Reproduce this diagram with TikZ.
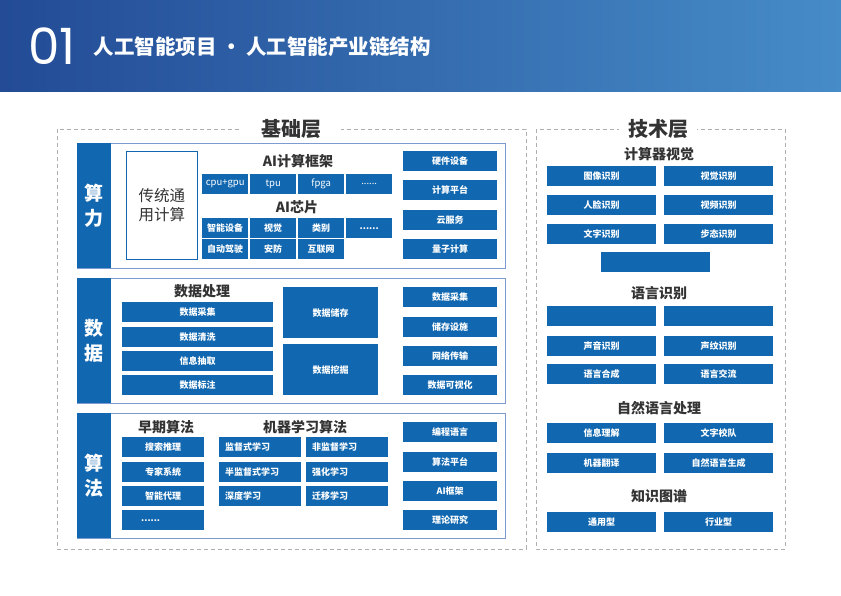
\documentclass[tikz,border=0pt]{standalone}
\usepackage{fontspec}
\setmainfont{Noto Sans CJK SC}
\newfontfamily\numfont{Poppins}
\usepackage{xcolor}
\definecolor{boxblue}{RGB}{18,104,176}
\definecolor{rahmenblau}{RGB}{125,155,208}
\definecolor{kopflinks}{RGB}{35,75,150}
\definecolor{kopfrechts}{RGB}{70,140,200}
\definecolor{textgrau}{RGB}{51,51,51}
\definecolor{strichgrau}{RGB}{175,175,175}
\newcommand\punkte{......}

\begin{document}
\begin{tikzpicture}[x=1pt, y=-1pt,
		zelle/.style={fill=boxblue, text=white, font=\bfseries\fontsize{9}{10}\selectfont, inner sep=0pt, minimum height=20, minimum width=#1, anchor=north west},
		links/.style={align=left, text width=#1, inner xsep=6},
		kopf/.style={text=textgrau, font=\bfseries\fontsize{14}{14}\selectfont},
		ebene/.style={fill=white, text=textgrau, font=\bfseries\fontsize{20}{20}\selectfont},
		rahmen/.style={strichgrau, dash pattern=on 4pt off 3pt},
		balken/.style={fill=boxblue, text=white, font=\bfseries\fontsize{19}{25}\selectfont, align=center, inner sep=0pt, minimum width=34, minimum height=125, anchor=north west}]
		\useasboundingbox (0,0) rectangle (841,595);
		% Kopfzeile
		\shade[left color=kopflinks, right color=kopfrechts] (0,0) rectangle (841,91);
		\node[text=white, font=\numfont\fontsize{50}{50}\selectfont, anchor=west] (nr) at (25,46) {01};
		\node[text=white, font=\bfseries\fontsize{20.5}{21}\selectfont, anchor=west] (titel) at (90,47) {人工智能项目 • 人工智能产业链结构};
		% Rahmen der Ebenen
		\draw[rahmen] (57,129) rectangle (526,549);
		\draw[rahmen] (536,129) rectangle (785,549);
		\node[ebene, inner xsep=20] (basis) at (291,129) {基础层};
		\node[ebene, inner xsep=9] (technik) at (658,129) {技术层};
		% Abschnitte links
		\foreach \o/\t [count=\i] in {143/{算\\力},278/{数\\据},413/{算\\法}} {
			\node[draw=rahmenblau, fill=white, minimum width=428, minimum height=125, inner sep=0pt, anchor=north west] (ab\i) at (77,\o) {};
			\node[balken] (bar\i) at (77,\o) {\t};
		}
		% Rechenleistung
		\node[draw=boxblue, thick, text=textgrau, font=\fontsize{15.5}{19}\selectfont, align=center, inner sep=0pt, minimum width=71, minimum height=108, anchor=north west] (trad) at (126,151) {传统通\\用计算};
		\node[kopf] (rahmenwerk) at (298,161) {AI计算框架};
		\foreach \t [count=\i] in {cpu+gpu,tpu,fpga,\punkte}
			\node[zelle=46, font=\fontsize{9.5}{10}\selectfont] (rw\i) at (154+48*\i,174) {\t};
		\node[kopf] (chip) at (297,207) {AI芯片};
		\foreach \t [count=\i] in {智能设备,视觉,类别,\punkte}
			\node[zelle=46] (ca\i) at (154+48*\i,218) {\t};
		\foreach \t [count=\i] in {自动驾驶,安防,互联网}
			\node[zelle=46] (cb\i) at (154+48*\i,239) {\t};
		\foreach \y/\t [count=\i] in {151/硬件设备,180/计算平台,210/云服务,239/量子计算}
			\node[zelle=94] (rl\i) at (403,\y) {\t};
		% Daten
		\node[kopf] (verarb) at (202,291) {数据处理};
		\foreach \y/\t [count=\i] in {302/数据采集,327/数据清洗,351/信息抽取,375/数据标注}
			\node[zelle=151] (dv\i) at (122,\y) {\t};
		\node[zelle=95, minimum height=51] (speicher) at (283,287) {数据储存};
		\node[zelle=95, minimum height=51] (mining) at (283,344) {数据挖掘};
		\foreach \y/\t [count=\i] in {287/数据采集,317/储存设施,346/网络传输,375/数据可视化}
			\node[zelle=94] (dr\i) at (403,\y) {\t};
		% Algorithmen
		\node[kopf] (frueh) at (166,427) {早期算法};
		\node[kopf] (ml) at (305,427) {机器学习算法};
		\foreach \y/\t [count=\i] in {437/搜索推理,462/专家系统,486/智能代理}
			\node[zelle=82] (fa\i) at (122,\y) {\t};
		\node[zelle=82, links=44, inner xsep=19] (fa4) at (122,510) {\punkte};
		\foreach \y/\a/\b [count=\i] in {437/监督式学习/非监督学习,462/半监督式学习/强化学习,486/深度学习/迁移学习} {
			\node[zelle=82, links=70] (mla\i) at (219,\y) {\a};
			\node[zelle=82, links=70] (mlb\i) at (306,\y) {\b};
		}
		\foreach \y/\t [count=\i] in {422/编程语言,452/算法平台,481/AI框架,510/理论研究}
			\node[zelle=94] (ar\i) at (403,\y) {\t};
		% Technikebene
		\node[kopf] (sehen) at (659,154) {计算器视觉};
		\foreach \y/\a/\b [count=\i] in {166/图像识别/视觉识别,195/人脸识别/视频识别,224/文字识别/步态识别} {
			\node[zelle=109] (cva\i) at (547,\y) {\a};
			\node[zelle=109] (cvb\i) at (664,\y) {\b};
		}
		\node[zelle=109] (cvc) at (601,252) {};
		\node[kopf] (sprache) at (659,293) {语言识别};
		\node[zelle=109] (spa1) at (547,306) {};
		\node[zelle=109] (spb1) at (664,306) {};
		\foreach \y/\a/\b [count=\i from 2] in {336/声音识别/声纹识别,364/语言合成/语言交流} {
			\node[zelle=109] (spa\i) at (547,\y) {\a};
			\node[zelle=109] (spb\i) at (664,\y) {\b};
		}
		\node[kopf] (nlp) at (659,408) {自然语言处理};
		\foreach \y/\a/\b [count=\i] in {423/信息理解/文字校队,453/机器翻译/自然语言生成} {
			\node[zelle=109] (nla\i) at (547,\y) {\a};
			\node[zelle=109] (nlb\i) at (664,\y) {\b};
		}
		\node[kopf] (wissen) at (659,496) {知识图谱};
		\node[zelle=109] (kg1) at (547,512) {通用型};
		\node[zelle=109] (kg2) at (664,512) {行业型};
	\end{tikzpicture}
\end{document}
